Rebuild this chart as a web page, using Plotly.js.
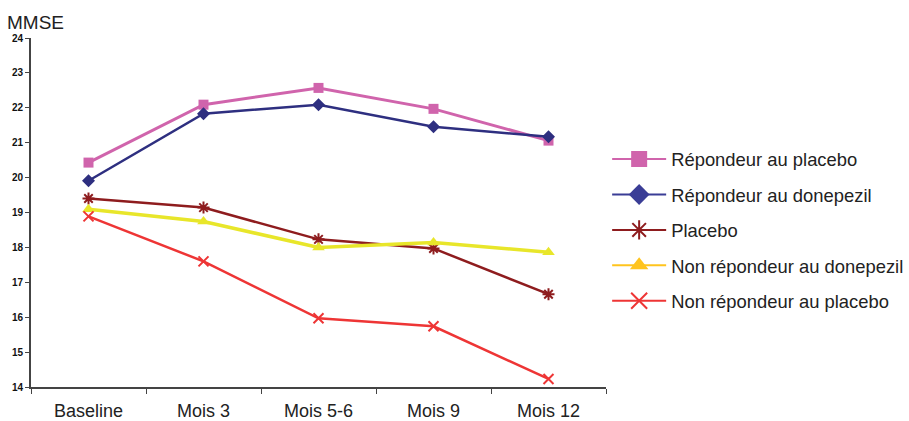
<!DOCTYPE html>
<html><head><meta charset="utf-8">
<script src="https://cdn.plot.ly/plotly-3.0.1.min.js"></script>
<style>body{margin:0;background:#fff}#c{width:909px;height:421px}</style>
</head><body><div id="c"></div>
<script>
const categories = ["Baseline", "Mois 3", "Mois 5-6", "Mois 9", "Mois 12"];
const repondeurPlacebo = [20.43, 22.09, 22.57, 21.97, 21.06];
const repondeurDonepezil = [19.91, 21.83, 22.09, 21.46, 21.17];
const placebo = [19.40, 19.14, 18.23, 17.97, 16.66];
const nonRepondeurDonepezil = [19.09, 18.74, 18.00, 18.14, 17.86];
const nonRepondeurPlacebo = [18.89, 17.60, 15.97, 15.74, 14.23];
const yTicks = [14, 15, 16, 17, 18, 19, 20, 21, 22, 23, 24];

const series = [
  {name: 'Répondeur au placebo', y: repondeurPlacebo, color: '#D064AC', legColor: '#D064AC', symbol: 'square', size: 10, width: 3, mline: 0, g: 'a'},
  {name: 'Répondeur au donepezil', y: repondeurDonepezil, color: '#2E2F80', legColor: '#3A3D96', symbol: 'diamond', size: 10, width: 2.5, mline: 0, g: 'b'},
  {name: 'Placebo', y: placebo, color: '#8E1C1E', legColor: '#8E1C1E', symbol: 'asterisk-open', size: 10, width: 2.5, mline: 2, g: 'c'},
  {name: 'Non répondeur au donepezil', y: nonRepondeurDonepezil, color: '#E8E62A', legColor: '#FFC41E', symbol: 'triangle-up', size: 11, width: 3.5, mline: 0, g: 'd'},
  {name: 'Non répondeur au placebo', y: nonRepondeurPlacebo, color: '#EE3535', legColor: '#EE3535', symbol: 'x-thin-open', size: 10, width: 2.5, mline: 2, g: 'e'}
];
const data = [];
series.forEach(s => {
  data.push({
    type: 'scatter', mode: 'lines+markers', name: s.name, x: categories, y: s.y,
    legendgroup: s.g, showlegend: false,
    line: {color: s.color, width: s.width},
    marker: {symbol: s.symbol, size: s.size, color: s.color, line: {color: s.color, width: s.mline}}
  });
});
series.forEach(s => {
  data.push({
    type: 'scatter', mode: 'lines+markers', name: s.name, x: [null], y: [null],
    legendgroup: s.g, showlegend: true, hoverinfo: 'skip',
    line: {color: s.legColor, width: 2},
    marker: {symbol: s.symbol, size: 16, color: s.legColor, line: {color: s.legColor, width: s.mline}}
  });
});
const layout = {
  width: 909, height: 421,
  margin: {l: 31, r: 303, t: 38, b: 34, autoexpand: false},
  paper_bgcolor: '#fff', plot_bgcolor: '#fff',
  font: {family: 'Liberation Sans, Arial, sans-serif', color: '#222'},
  title: {text: 'MMSE', x: 7/909, xanchor: 'left', xref: 'container', y: 1 - 22/421, yanchor: 'middle',
          yref: 'container', font: {size: 19, color: '#222'}},
  showlegend: true,
  legend: {x: 1.002, xanchor: 'left', y: 0.706, yanchor: 'top', font: {size: 18.4, color: '#222'},
           tracegroupgap: 8.5, itemwidth: 54, bgcolor: 'rgba(0,0,0,0)'},
  xaxis: {
    type: 'category', range: [-0.5, 4.5], showgrid: false, zeroline: false,
    showline: true, linecolor: '#444', linewidth: 2,
    ticks: 'outside', tickson: 'boundaries', ticklen: 5, tickcolor: '#444', tickwidth: 1,
    tickfont: {size: 18, color: '#222'}, ticklabelstandoff: 6
  },
  yaxis: {
    range: [14, 24], tickvals: yTicks, showgrid: false, zeroline: false,
    showline: true, linecolor: '#444', linewidth: 2,
    ticks: 'outside', ticklen: 4, tickcolor: '#444', tickwidth: 1,
    tickfont: {size: 10, color: '#111', weight: 'bold'}
  }
};
Plotly.newPlot('c', data, layout, {displayModeBar: false});
</script></body></html>
